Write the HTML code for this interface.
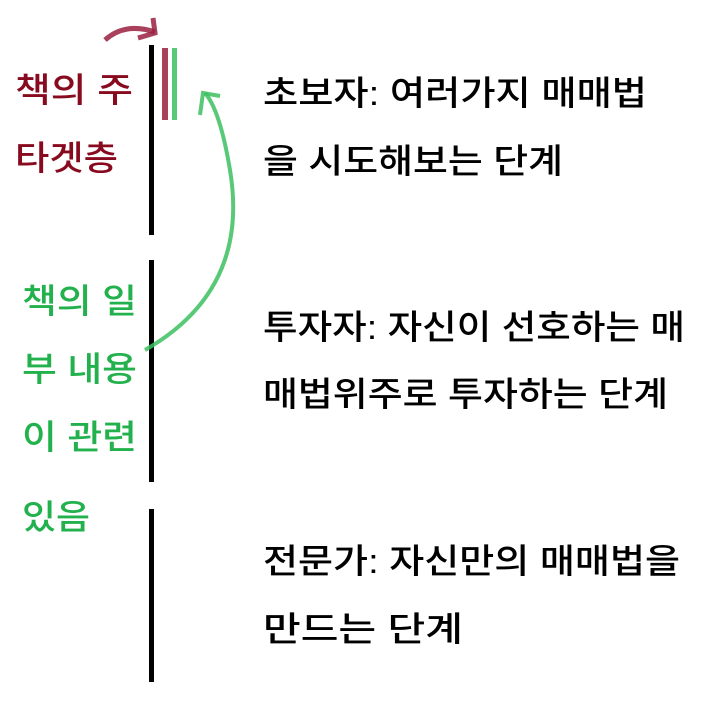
<!DOCTYPE html>
<html><head><meta charset="utf-8"><style>html,body{margin:0;padding:0;background:#fff}</style></head>
<body>
<svg width="704" height="704" xmlns="http://www.w3.org/2000/svg" style="display:block">
<g font-family="'Liberation Sans','Noto Sans CJK KR','NanumGothic',sans-serif" font-size="34" font-weight="500">
<rect x="149" y="45" width="5" height="190" fill="#000"/>
<rect x="149" y="260" width="5" height="222" fill="#000"/>
<rect x="149" y="509" width="5" height="173" fill="#000"/>
<rect x="162" y="48" width="6" height="72" fill="#9a2040" opacity="0.85"/>
<rect x="172" y="48" width="5" height="72" fill="#3cc060" opacity="0.85"/>
<path d="M105 40 Q125 22 155 32" stroke="#9a2040" stroke-width="5" fill="none" opacity="0.85"/>
<path d="M138 38 L155 33 L153 18" stroke="#9a2040" stroke-width="5" fill="none" opacity="0.85"/>
<path d="M145 350 Q250 290 230 170 Q220 110 205 93" stroke="#3cc060" stroke-width="4" fill="none" opacity="0.85"/>
<path d="M200 115 L203 93 L220 96" stroke="#3cc060" stroke-width="4" fill="none" opacity="0.85"/>
<g fill="#880a1e">
<text x="15" y="102" textLength="118" lengthAdjust="spacingAndGlyphs">책의 주</text>
<text x="15" y="170" textLength="103" lengthAdjust="spacingAndGlyphs">타겟층</text>
</g>
<g fill="#22b14c">
<text x="22" y="313" textLength="115" lengthAdjust="spacingAndGlyphs">책의 일</text>
<text x="22" y="381" textLength="115" lengthAdjust="spacingAndGlyphs">부 내용</text>
<text x="22" y="449" textLength="115" lengthAdjust="spacingAndGlyphs">이 관련</text>
<text x="22" y="529" textLength="68" lengthAdjust="spacingAndGlyphs">있음</text>
</g>
<g fill="#000">
<text x="263" y="105" textLength="384" lengthAdjust="spacingAndGlyphs">초보자: 여러가지 매매법</text>
<text x="263" y="173" textLength="300" lengthAdjust="spacingAndGlyphs">을 시도해보는 단계</text>
<text x="263" y="339" textLength="422" lengthAdjust="spacingAndGlyphs">투자자: 자신이 선호하는 매</text>
<text x="263" y="406" textLength="405" lengthAdjust="spacingAndGlyphs">매법위주로 투자하는 단계</text>
<text x="263" y="573" textLength="417" lengthAdjust="spacingAndGlyphs">전문가: 자신만의 매매법을</text>
<text x="263" y="641" textLength="200" lengthAdjust="spacingAndGlyphs">만드는 단계</text>
</g>
</g>
</svg>
</body></html>
